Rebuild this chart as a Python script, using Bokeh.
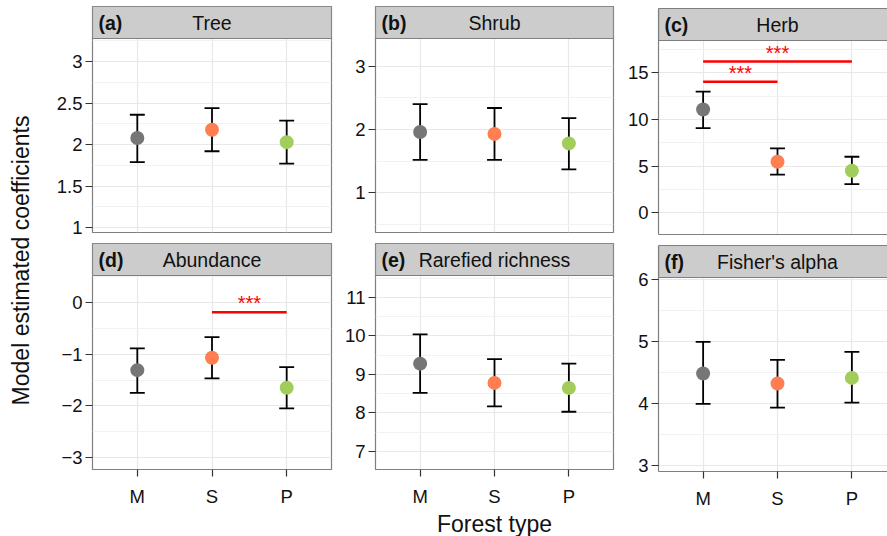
import math
from bokeh.plotting import figure
from bokeh.layouts import row, column
from bokeh.models import Range1d, FixedTicker
from bokeh.embed import file_html
from bokeh.resources import INLINE
from bokeh.core.properties import value

# ---------------- data ----------------
forest_types = ["M", "S", "P"]
panel_names = ["Tree", "Shrub", "Herb", "Abundance", "Rarefied richness", "Fisher's alpha"]
panel_tags = ["(a)", "(b)", "(c)", "(d)", "(e)", "(f)"]

tree_est = [2.08, 2.18, 2.03]
tree_low = [1.79, 1.92, 1.77]
tree_high = [2.36, 2.44, 2.29]

shrub_est = [1.96, 1.93, 1.78]
shrub_low = [1.52, 1.52, 1.37]
shrub_high = [2.40, 2.34, 2.18]

herb_est = [11.07, 5.47, 4.50]
herb_low = [9.07, 4.08, 3.06]
herb_high = [12.99, 6.90, 6.00]

abund_est = [-1.31, -1.07, -1.65]
abund_low = [-1.75, -1.47, -2.05]
abund_high = [-0.89, -0.67, -1.25]

rich_est = [9.28, 8.78, 8.65]
rich_low = [8.52, 8.17, 8.03]
rich_high = [10.04, 9.40, 9.28]

fisher_est = [4.49, 4.33, 4.42]
fisher_low = [4.00, 3.94, 4.02]
fisher_high = [5.00, 4.71, 4.84]

tree_ticks = [1, 1.5, 2, 2.5, 3]
tree_tick_labels = ["1", "1.5", "2", "2.5", "3"]
shrub_ticks = [1, 2, 3]
shrub_tick_labels = ["1", "2", "3"]
herb_ticks = [0, 5, 10, 15]
herb_tick_labels = ["0", "5", "10", "15"]
abund_ticks = [-3, -2, -1, 0]
abund_tick_labels = ["\u22123", "\u22122", "\u22121", "0"]
rich_ticks = [7, 8, 9, 10, 11]
rich_tick_labels = ["7", "8", "9", "10", "11"]
fisher_ticks = [3, 4, 5, 6]
fisher_tick_labels = ["3", "4", "5", "6"]

tree_limits = [0.94, 3.28]
shrub_limits = [0.37, 3.44]
herb_limits = [-2.33, 18.46]
abund_limits = [-3.23, 0.52]
rich_limits = [6.53, 11.57]
fisher_limits = [2.91, 6.04]

herb_sig_from = ["M", "M"]
herb_sig_to = ["P", "S"]
herb_sig_y = [16.2, 14.05]
abund_sig_from = ["S"]
abund_sig_to = ["P"]
abund_sig_y = [-0.19]
sig_label = "***"

y_title = "Model estimated coefficients"
x_title = "Forest type"

# ---------------- style ----------------
FONT = "Liberation Sans"
BORDER = "#7F7F7F"
STRIP_FILL = "#CCCCCC"
POINT_COLORS = ["#767676", "#FF7F50", "#A2CD5A"]
SIG_COLOR = "#FF0000"
TICK_FS = "18.5px"
STRIP_FS = "19.5px"
TITLE_FS = "23px"
SIG_FS = "20px"
TEXT_COLOR = "#111111"

# columns: (min_border_left, visible frame width, min_border_right, full panel width)
COLS = [(52, 239, 5, 239), (39, 238, 6, 238), (39, 229, 0, 238)]
YLAB_W = 40
PANEL_H = 194
STRIP_H = 32


def minor_of(ticks):
    step = ticks[1] - ticks[0]
    return [ticks[0] - step / 2] + [t + step / 2 for t in ticks]


def make_panel(col, rowi, tag, name, est, low, high, ticks, tick_labels, limits,
               sig_from=None, sig_to=None, sig_y=None, xlabel=None):
    left, fw, right, full_w = COLS[col]
    clipped = right == 0
    bottom = rowi == 1
    unit = full_w / 3.2
    xs = 0.4
    xe = xs + fw / unit
    x_full_end = 0.4 + 3.2
    m = 2 if clipped else 0
    k = PANEL_H / (limits[1] - limits[0])
    strip_top = limits[1] + STRIP_H / k
    ye = strip_top + m / k
    top_border = (6 if rowi == 0 else 2) - m
    bottom_border = 67 if bottom else 9

    p = figure(frame_width=fw, frame_height=PANEL_H + STRIP_H + m,
               min_border_left=left, min_border_right=right,
               min_border_top=top_border, min_border_bottom=bottom_border,
               x_range=Range1d(xs, xe), y_range=Range1d(limits[0], ye),
               title=None, output_backend="svg", toolbar_location=None,
               background_fill_color="white", border_fill_color="white")
    if clipped:
        p.outline_line_color = None
    else:
        p.outline_line_color = BORDER
        p.outline_line_width = 1.2

    xpos = [forest_types.index(f) + 1 for f in forest_types]

    # y axis
    p.yaxis.ticker = FixedTicker(ticks=ticks, minor_ticks=minor_of(ticks))
    p.yaxis.major_label_overrides = {t: l for t, l in zip(ticks, tick_labels)}
    p.yaxis.major_label_text_font = FONT
    p.yaxis.major_label_text_font_size = TICK_FS
    p.yaxis.major_label_text_color = TEXT_COLOR
    p.yaxis.major_tick_line_color = "#333333"
    p.yaxis.major_tick_line_width = 1.2
    p.yaxis.major_tick_out = 7
    p.yaxis.major_tick_in = 0
    p.yaxis.minor_tick_line_color = None
    p.yaxis.major_label_standoff = 3
    if clipped:
        p.yaxis.axis_line_color = BORDER
        p.yaxis.axis_line_width = 1.2
        p.yaxis.bounds = (limits[0], strip_top)
    else:
        p.yaxis.axis_line_color = None

    # x axis
    p.xaxis.ticker = FixedTicker(ticks=xpos, minor_ticks=[])
    p.xgrid.ticker = FixedTicker(ticks=xpos, minor_ticks=[])
    if bottom:
        p.xaxis.major_label_overrides = {x: f for x, f in zip(xpos, forest_types)}
        p.xaxis.major_label_text_font = FONT
        p.xaxis.major_label_text_font_size = TICK_FS
        p.xaxis.major_label_text_color = TEXT_COLOR
        p.xaxis.major_tick_line_color = "#333333"
        p.xaxis.major_tick_line_width = 1.2
        p.xaxis.major_tick_out = 7
        p.xaxis.major_tick_in = 0
        p.xaxis.major_label_standoff = 9
        p.xaxis.axis_line_color = BORDER if clipped else None
        p.xaxis.axis_line_width = 1.2
        if xlabel:
            p.xaxis.axis_label = xlabel
            p.xaxis.axis_label_text_font = FONT
            p.xaxis.axis_label_text_font_size = TITLE_FS
            p.xaxis.axis_label_text_font_style = "normal"
            p.xaxis.axis_label_text_color = TEXT_COLOR
            p.xaxis.axis_label_standoff = 1
    else:
        if clipped:
            p.xaxis.major_label_overrides = {x: "" for x in xpos}
            p.xaxis.major_label_text_font_size = "0px"
            p.xaxis.major_tick_line_color = None
            p.xaxis.major_tick_out = 0
            p.xaxis.major_tick_in = 0
            p.xaxis.major_label_standoff = 0
            p.xaxis.axis_line_color = BORDER
            p.xaxis.axis_line_width = 1.2
        else:
            p.xaxis.visible = False

    # grid
    p.xgrid.grid_line_color = "#E8E8E8"
    p.xgrid.grid_line_width = 1.2
    p.ygrid.grid_line_color = "#E8E8E8"
    p.ygrid.grid_line_width = 1.2
    p.ygrid.minor_grid_line_color = "#F2F2F2"
    p.ygrid.minor_grid_line_width = 1.0

    # strip (facet label box) above the panel
    if m:
        p.quad(left=[xs], right=[x_full_end], bottom=[strip_top], top=[ye],
               fill_color="white", line_color=None)
    p.quad(left=[xs], right=[x_full_end], bottom=[limits[1]], top=[strip_top],
           fill_color=STRIP_FILL, line_color=BORDER, line_width=1.2)
    strip_mid = limits[1] + STRIP_H / (2 * k)
    p.text(x=[xs], y=[strip_mid], text=[tag], x_offset=6, text_align="left",
           text_baseline="middle", text_font=value(FONT), text_font_style="bold",
           text_font_size=STRIP_FS, text_color=TEXT_COLOR)
    p.text(x=[(xs + x_full_end) / 2], y=[strip_mid], text=[name], text_align="center",
           text_baseline="middle", text_font=value(FONT),
           text_font_size=STRIP_FS, text_color=TEXT_COLOR)

    # error bars
    p.segment(x0=xpos, y0=low, x1=xpos, y1=high, line_color="black", line_width=1.8)
    p.segment(x0=[x - 0.1 for x in xpos], y0=high, x1=[x + 0.1 for x in xpos], y1=high,
              line_color="black", line_width=1.8)
    p.segment(x0=[x - 0.1 for x in xpos], y0=low, x1=[x + 0.1 for x in xpos], y1=low,
              line_color="black", line_width=1.8)
    p.scatter(x=xpos, y=est, size=14, fill_color=POINT_COLORS, line_color=None)

    if sig_from:
        x0 = [forest_types.index(f) + 1 for f in sig_from]
        x1 = [forest_types.index(f) + 1 for f in sig_to]
        p.segment(x0=x0, y0=sig_y, x1=x1, y1=sig_y, line_color=SIG_COLOR, line_width=2.5)
        p.text(x=[(a + b) / 2 for a, b in zip(x0, x1)], y=sig_y,
               text=[sig_label] * len(sig_y), text_align="center",
               text_baseline="bottom", text_font=value(FONT), y_offset=2,
               text_font_size=SIG_FS, text_color=SIG_COLOR)
    return p


# y title figure
ylab = figure(frame_width=YLAB_W, frame_height=536, min_border=0,
              x_range=Range1d(0, 1), y_range=Range1d(0, 536),
              x_axis_location=None, y_axis_location=None, title=None,
              output_backend="svg", toolbar_location=None, outline_line_color=None,
              background_fill_color="white", border_fill_color="white")
ylab.grid.visible = False
ylab.text(x=[0.5], y=[276], text=[y_title], angle=math.pi / 2, text_align="center",
          text_baseline="middle", text_font=value(FONT), text_font_size=TITLE_FS,
          text_color=TEXT_COLOR)

pa = make_panel(0, 0, panel_tags[0], panel_names[0], tree_est, tree_low, tree_high,
                tree_ticks, tree_tick_labels, tree_limits)
pb = make_panel(1, 0, panel_tags[1], panel_names[1], shrub_est, shrub_low, shrub_high,
                shrub_ticks, shrub_tick_labels, shrub_limits)
pc = make_panel(2, 0, panel_tags[2], panel_names[2], herb_est, herb_low, herb_high,
                herb_ticks, herb_tick_labels, herb_limits,
                herb_sig_from, herb_sig_to, herb_sig_y)
pd = make_panel(0, 1, panel_tags[3], panel_names[3], abund_est, abund_low, abund_high,
                abund_ticks, abund_tick_labels, abund_limits,
                abund_sig_from, abund_sig_to, abund_sig_y)
pe = make_panel(1, 1, panel_tags[4], panel_names[4], rich_est, rich_low, rich_high,
                rich_ticks, rich_tick_labels, rich_limits, xlabel=x_title)
pf = make_panel(2, 1, panel_tags[5], panel_names[5], fisher_est, fisher_low, fisher_high,
                fisher_ticks, fisher_tick_labels, fisher_limits)

layout = row(ylab, column(row(pa, pb, pc), row(pd, pe, pf)))

open("out.html", "w").write(file_html(layout, INLINE))
